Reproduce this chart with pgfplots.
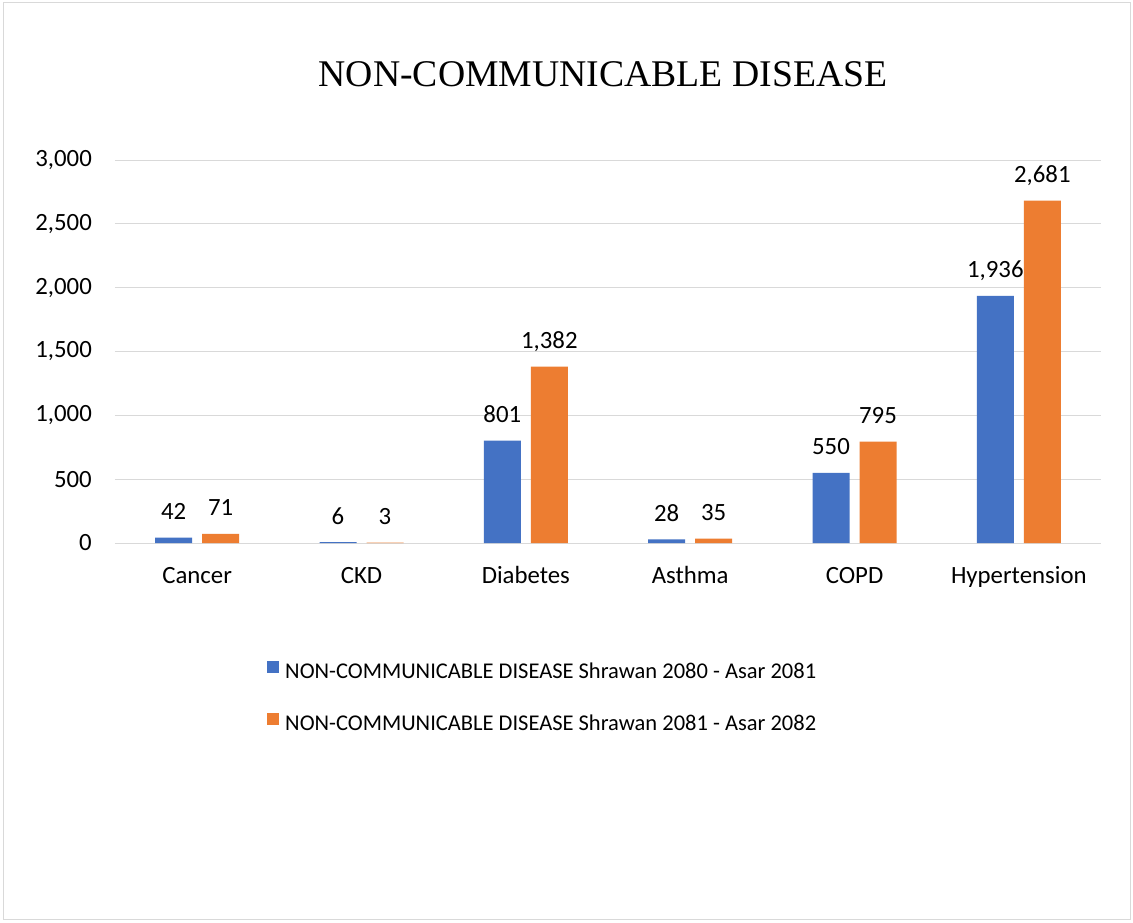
\documentclass[border=0pt]{standalone}
\usepackage{fontspec}
\setmainfont{Carlito}
\newfontfamily\titlefont{Liberation Serif}
\usepackage{pgfplots}
\pgfplotsset{compat=1.18}
\definecolor{cblue}{HTML}{4472C4}
\definecolor{corange}{HTML}{ED7D31}
\definecolor{cgrid}{HTML}{D9D9D9}
\begin{document}
\begin{tikzpicture}[x=1pt,y=1pt]
\fill[white] (0,0) rectangle (1133,922);
\draw[cgrid, line width=1pt] (3,3) rectangle (1130,919);
\node[font=\titlefont\fontsize{37.7}{44}\selectfont, anchor=base, inner sep=0pt] at (603,835) {NON-COMMUNICABLE DISEASE};
\begin{axis}[
 at={(115pt,379pt)}, anchor=south west, scale only axis, width=986pt, height=383pt,
 ybar=10pt, bar width=37pt,
 xmin=-0.5, xmax=5.5, ymin=0, ymax=3000,
 xtick={0,...,5}, xticklabels={Cancer,CKD,Diabetes,Asthma,COPD,Hypertension},
 ytick={0,500,...,3000},
 ymajorgrids, grid style={cgrid, line width=1pt},
 axis line style={draw=none},
 major tick length=0pt,
 tick label style={font=\fontsize{24.8}{29}\selectfont},
 xticklabel style={anchor=base, yshift=-40pt},
 yticklabel style={anchor=east, inner sep=0pt, xshift=-23pt},
 scaled y ticks=false,
 /pgf/number format/1000 sep={,},
 /pgf/number format/assume math mode=true,
 nodes near coords,
 nodes near coords style={font=\fontsize{24.8}{29}\selectfont, anchor=base, inner sep=0pt, yshift=18pt, text=black},
 legend style={at={(0.1542,-0.3080)}, anchor=north west, draw=none, fill=none, inner sep=0pt, column sep=6pt, row sep=30pt,
   font=\fontsize{22.5}{26}\selectfont, nodes={inner sep=0pt, text height=15pt, text depth=5pt}},
 legend cell align=left,
 legend image code/.code={\fill[#1] (0pt,0pt) rectangle (12pt,12pt);},
]
\addplot[fill=cblue, draw=none] coordinates {(0,42) (1,6) (2,801) (3,28) (4,550) (5,1936)};
\addplot[fill=corange, draw=none] coordinates {(0,71) (1,3) (2,1382) (3,35) (4,795) (5,2681)};
\legend{NON-COMMUNICABLE DISEASE Shrawan 2080 - Asar 2081, NON-COMMUNICABLE DISEASE Shrawan 2081 - Asar 2082}
\end{axis}
\end{tikzpicture}
\end{document}
